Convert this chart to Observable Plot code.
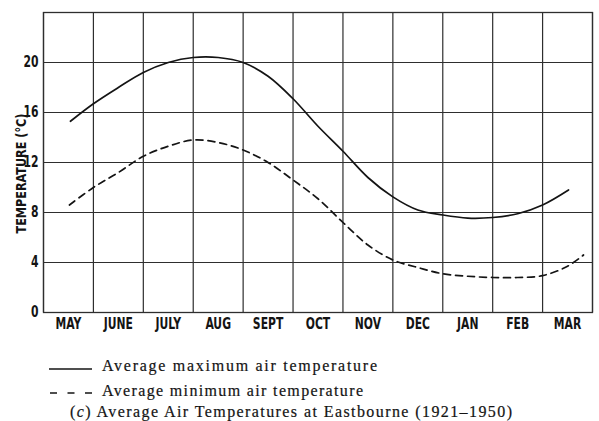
<!DOCTYPE html>
<html>
<head>
<meta charset="utf-8">
<script src="https://cdn.jsdelivr.net/npm/d3@7"></script>
<script src="https://cdn.jsdelivr.net/npm/@observablehq/plot@0.6"></script>
<style>
  html, body { margin: 0; padding: 0; background: #fff; }
  #chart svg { display: block; }
</style>
</head>
<body>
<div id="chart"></div>
<script>
// Month categories (columns of the grid)
const months = ["MAY", "JUNE", "JULY", "AUG", "SEPT", "OCT", "NOV", "DEC", "JAN", "FEB", "MAR"];
// Y tick labels
const yTicks = [0, 4, 8, 12, 16, 20];

// Average maximum air temperature (°C), read at positions along the month axis (in months from start of May)
const maxMonthPos = [0.54, 1.0, 1.5, 2.0, 2.5, 3.0, 3.5, 4.0, 4.5, 5.0, 5.5, 6.0, 6.5, 7.0, 7.5, 8.0, 8.5, 9.0, 9.5, 10.0, 10.52];
const maxTemp     = [15.3, 16.7, 18.0, 19.2, 20.0, 20.4, 20.4, 20.0, 18.9, 17.1, 14.9, 12.9, 10.8, 9.25, 8.2, 7.8, 7.55, 7.6, 7.9, 8.6, 9.8];

// Average minimum air temperature (°C)
const minMonthPos = [0.52, 1.0, 1.5, 2.0, 2.5, 3.0, 3.5, 4.0, 4.5, 5.0, 5.5, 6.0, 6.5, 7.0, 7.5, 8.0, 8.5, 9.0, 9.5, 10.0, 10.5, 10.82];
const minTemp     = [8.6, 10.0, 11.2, 12.5, 13.3, 13.8, 13.6, 13.0, 12.0, 10.6, 9.1, 7.2, 5.4, 4.2, 3.6, 3.1, 2.9, 2.8, 2.8, 2.95, 3.7, 4.6];

const yLabel = "TEMPERATURE (°C)";
const legendMax = "Average maximum air temperature";
const legendMin = "Average minimum air temperature";
const captionPre = "(";
const captionItal = "c";
const captionPost = ") Average Air Temperatures at Eastbourne (1921\u20131950)";

const maxData = maxMonthPos.map((x, i) => ({x, y: maxTemp[i]}));
const minData = minMonthPos.map((x, i) => ({x, y: minTemp[i]}));

const ink = "#141414";
const gridInk = "#2e2e2e";

const chart = Plot.plot({
  width: 599,
  height: 336,
  marginLeft: 43,
  marginRight: 7,
  marginTop: 12,
  marginBottom: 24,
  x: {domain: [0, months.length]},
  y: {domain: [0, 24]},
  style: {
    fontFamily: "'Liberation Sans Narrow', 'DejaVu Sans Condensed', sans-serif",
    fontSize: "15px",
    fontWeight: "bold",
    color: ink,
    background: "#fff",
    overflow: "visible"
  },
  marks: [
    Plot.gridX(d3.range(0, months.length + 1), {stroke: gridInk, strokeOpacity: 1, strokeWidth: 1.2}),
    Plot.gridY(d3.range(0, 25, 4), {stroke: gridInk, strokeOpacity: 1, strokeWidth: 1.2}),
    Plot.frame({stroke: gridInk, strokeWidth: 1.3}),
    Plot.axisX(months.map((m, i) => i + 0.5), {
      tickSize: 0, tickPadding: 6,
      tickFormat: d => months[Math.floor(d)],
      label: null, className: "xax"
    }),
    Plot.axisY(yTicks, {tickSize: 0, tickPadding: 5, label: null, className: "yax"}),
    Plot.text([yLabel], {
      frameAnchor: "left", textAnchor: "middle", rotate: -90, dx: -22, dy: 11,
      fontSize: 14, fontWeight: "bold", fill: ink, className: "ylab"
    }),
    Plot.line(maxData, {x: "x", y: "y", curve: "catmull-rom", stroke: ink, strokeWidth: 1.7}),
    Plot.line(minData, {x: "x", y: "y", curve: "catmull-rom", stroke: ink, strokeWidth: 1.7, strokeDasharray: "7,5"})
  ]
});

document.getElementById("chart").appendChild(chart);

// Condense the tall printed lettering of the axis labels
d3.select(chart).selectAll(".xax text, .yax text").each(function () {
  const L = this.getComputedTextLength();
  d3.select(this).attr("textLength", L * 0.8).attr("lengthAdjust", "spacingAndGlyphs");
});
// Squeeze the rotated axis title to its printed length
d3.select(chart).selectAll(".ylab text")
  .attr("textLength", 120).attr("lengthAdjust", "spacingAndGlyphs");

// Legend and caption below the chart
const legend = d3.select("#chart").append("svg")
  .attr("width", 599).attr("height", 85)
  .style("display", "block")
  .style("font-family", "'Liberation Serif', 'DejaVu Serif', serif")
  .style("font-size", "16px")
  .style("fill", ink)
  .style("stroke", ink)
  .style("stroke-width", 0.2);

legend.append("line").attr("x1", 49).attr("x2", 92).attr("y1", 33).attr("y2", 33)
  .attr("stroke", ink).attr("stroke-width", 1.4);
legend.append("text").attr("x", 102).attr("y", 35)
  .attr("textLength", 275).attr("lengthAdjust", "spacing").text(legendMax);

legend.append("line").attr("x1", 50).attr("x2", 92).attr("y1", 57).attr("y2", 57)
  .attr("stroke", ink).attr("stroke-width", 1.4).attr("stroke-dasharray", "7,10.5");
legend.append("text").attr("x", 102).attr("y", 60)
  .attr("textLength", 261).attr("lengthAdjust", "spacing").text(legendMin);

const cap = legend.append("text").attr("x", 70).attr("y", 81)
  .attr("textLength", 442).attr("lengthAdjust", "spacing");
cap.append("tspan").text(captionPre);
cap.append("tspan").style("font-style", "italic").text(captionItal);
cap.append("tspan").text(captionPost);
</script>
</body>
</html>
